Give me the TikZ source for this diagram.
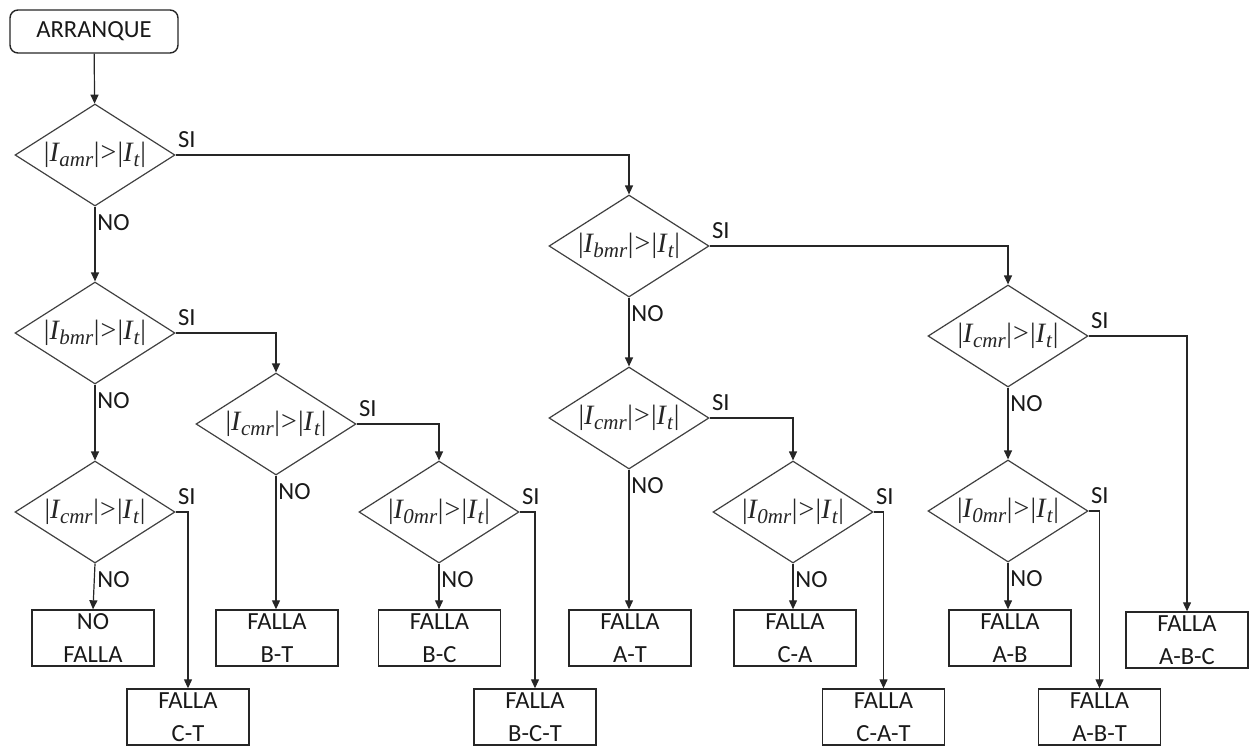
\documentclass[tikz,border=0pt]{standalone}
\usepackage{fontspec}
\setmainfont{Carlito}
\newfontfamily\tnr{Liberation Serif}
\usetikzlibrary{shapes.geometric,arrows.meta}
\newcommand{\subsz}{\fontsize{10.5}{10.5}\selectfont}
\newcommand{\cnd}[1]{{\tnr\fontsize{14}{15}\selectfont|\textit{I}\kern-0.3pt\raisebox{-2.6pt}{\subsz\textit{#1}}\kern0.3pt|\kern0.6pt>\kern0.6pt|\textit{I}\raisebox{-2.6pt}{\subsz\textit{t}}\kern0.2pt|}}
\begin{document}
\begin{tikzpicture}[x=0.5pt,y=-0.5pt,
  cond/.style={diamond, aspect=1.57, draw=black!75, line width=0.6pt, inner sep=0pt,
    minimum width=80pt, minimum height=51pt, text=black!85},
  res/.style={rectangle, draw=black!85, line width=0.7pt, minimum width=61pt,
    minimum height=28pt, inner sep=0pt, align=center,
    font=\fontsize{12.3}{16.5}\selectfont, text=black!90},
  startbox/.style={rectangle, rounded corners=4pt, draw=black!85, line width=0.7pt,
    minimum width=84pt, minimum height=21.5pt, inner sep=0pt,
    font=\fontsize{12.3}{14}\selectfont, text=black!90},
  arr/.style={draw=black!85, line width=0.6pt, -{Triangle[length=4.5pt,width=4pt]}},
  silab/.style={anchor=south west, inner sep=1pt, yshift=2.5pt,
    font=\fontsize{12.3}{14}\selectfont, text=black!90},
  nolab/.style={anchor=north west, inner sep=1pt, yshift=-3pt,
    font=\fontsize{12.3}{14}\selectfont, text=black!90}]
\useasboundingbox (0,0) rectangle (1256,746);

% start
\node[startbox] (st) at (94,31.5) {ARRANQUE};

% decisions
\node[cond] (d1) at (95,155) {\cnd{amr}};
\node[cond] (d2) at (95,333) {\cnd{bmr}};
\node[cond] (d3) at (95,512) {\cnd{cmr}};
\node[cond] (d4) at (276,424) {\cnd{cmr}};
\node[cond] (d5) at (439,512) {\cnd{0mr}};
\node[cond] (d6) at (629,246) {\cnd{bmr}};
\node[cond] (d7) at (629,418) {\cnd{cmr}};
\node[cond] (d8) at (793,512) {\cnd{0mr}};
\node[cond] (d9) at (1008,336) {\cnd{cmr}};
\node[cond] (d10) at (1008,511) {\cnd{0mr}};

% results
\node[res] (nf)  at (93,638)    {NO\\FALLA};
\node[res] (ct)  at (188,717)   {FALLA\\C-T};
\node[res] (bt)  at (277,638)   {FALLA\\B-T};
\node[res] (bc)  at (439.5,638) {FALLA\\B-C};
\node[res] (bct) at (535,717)   {FALLA\\B-C-T};
\node[res] (at)  at (630,638)   {FALLA\\A-T};
\node[res] (ca)  at (795,638)   {FALLA\\C-A};
\node[res] (cat) at (883.5,717) {FALLA\\C-A-T};
\node[res] (ab)  at (1010,638)  {FALLA\\A-B};
\node[res] (abt) at (1099.5,717){FALLA\\A-B-T};
\node[res] (abc) at (1187,640)  {FALLA\\A-B-C};

% connectors
\draw[arr] (st) -- (d1);

\draw[arr] (d1.south) -- (d2.north);
\draw[arr] (d1.east) -| (d6.north);
\draw[arr] (d2.south) -- (d3.north);
\draw[arr] (d2.east) -| (d4.north);
\draw[arr] (d3.south) -- (nf.north);
\draw[arr] (d3.east) -| (ct.north);
\draw[arr] (d4.south) -- (bt.north -| d4.south);
\draw[arr] (d4.east) -| (d5.north);
\draw[arr] (d5.south) -- (bc.north -| d5.south);
\draw[arr] (d5.east) -| (bct.north);
\draw[arr] (d6.south) -- (d7.north);
\draw[arr] (d6.east) -| (d9.north);
\draw[arr] (d7.south) -- (at.north -| d7.south);
\draw[arr] (d7.east) -| (d8.north);
\draw[arr] (d8.south) -- (ca.north -| d8.south);
\draw[arr] (d8.east) -| (cat.north);
\draw[arr] (d9.south) -- (d10.north);
\draw[arr] (d9.east) -| (abc.north);
\draw[arr] (d10.south) -- (ab.north -| d10.south);
\draw[arr] (d10.east) -| (abt.north);

% labels
\foreach \d in {d1,d2,d3,d4,d5,d6,d7,d8,d9,d10}{
  \node[silab] at (\d.east) {SI};
  \node[nolab] at (\d.south) {NO};
}
\end{tikzpicture}
\end{document}
